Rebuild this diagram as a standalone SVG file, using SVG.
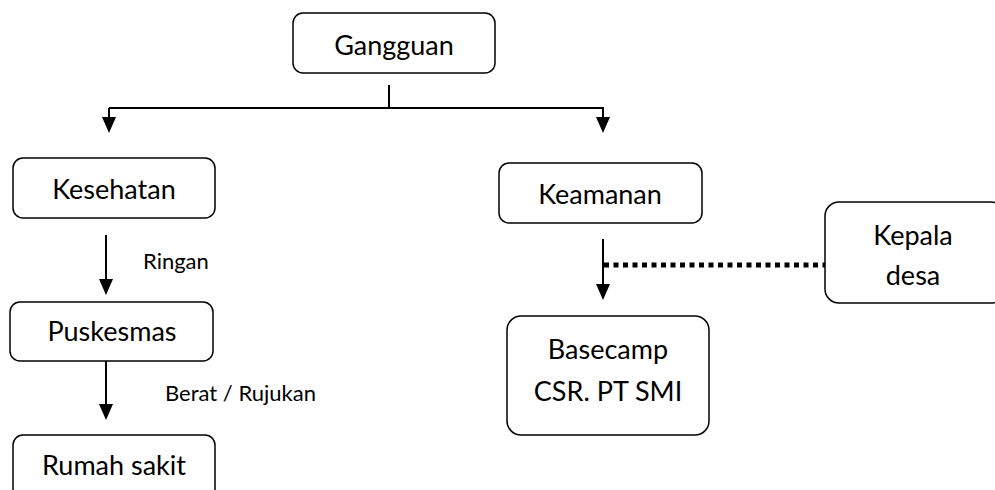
<svg xmlns="http://www.w3.org/2000/svg" width="995" height="490" viewBox="0 0 995 490">
<defs>
<style>
.box{fill:#fff;stroke:#000;stroke-width:1.5}
.t{font-family:Lato,"Open Sans",sans-serif;font-size:27px;fill:#000;text-anchor:middle}
.s{font-family:Lato,"Open Sans",sans-serif;font-size:22px;fill:#000}
.ln{fill:none;stroke:#000;stroke-width:2}
.ah{fill:#000}
</style>
</defs>
<rect width="995" height="490" fill="#fff"/>
<g id="gangguan"><rect class="box" x="293" y="13" width="202" height="60" rx="10"/><text class="t" x="394" y="55">Gangguan</text></g>
<g id="kesehatan"><rect class="box" x="13" y="158" width="202" height="60" rx="10"/><text class="t" x="114" y="199">Kesehatan</text></g>
<g id="puskesmas"><rect class="box" x="10" y="302" width="203" height="59" rx="10"/><text class="t" x="112" y="341">Puskesmas</text></g>
<g id="rumah-sakit"><rect class="box" x="13" y="435" width="202" height="70" rx="10"/><text class="t" x="114" y="475">Rumah sakit</text></g>
<g id="keamanan"><rect class="box" x="499" y="163" width="203" height="60" rx="10"/><text class="t" x="600" y="204">Keamanan</text></g>
<g id="basecamp"><rect class="box" x="507" y="316" width="202" height="119" rx="14"/><text class="t" x="608" y="359">Basecamp</text><text class="t" x="608" y="401">CSR. PT SMI</text></g>
<g id="kepala-desa"><rect class="box" x="825" y="202" width="180" height="101" rx="14"/><text class="t" x="913" y="245">Kepala</text><text class="t" x="913" y="285">desa</text></g>
<g id="connectors">
<path class="ln" d="M389 85 V108 M109 108 H604 M109 108 V118 M603 108 V118"/>
<polygon class="ah" points="102,117 116,117 109,133"/>
<polygon class="ah" points="596,117 610,117 603,133"/>
<path class="ln" d="M106 235 V280"/>
<polygon class="ah" points="99,279 113,279 106,295"/>
<path class="ln" d="M106 361 V405"/>
<polygon class="ah" points="99,404 113,404 106,420"/>
<path class="ln" d="M603 239 V285"/>
<polygon class="ah" points="596,284 610,284 603,300"/>
<path d="M604 265 H825" fill="none" stroke="#000" stroke-width="5" stroke-dasharray="5 4.5"/>
<text class="s" x="143" y="269">Ringan</text>
<text class="s" x="165" y="401">Berat / Rujukan</text>
</g>
</svg>
